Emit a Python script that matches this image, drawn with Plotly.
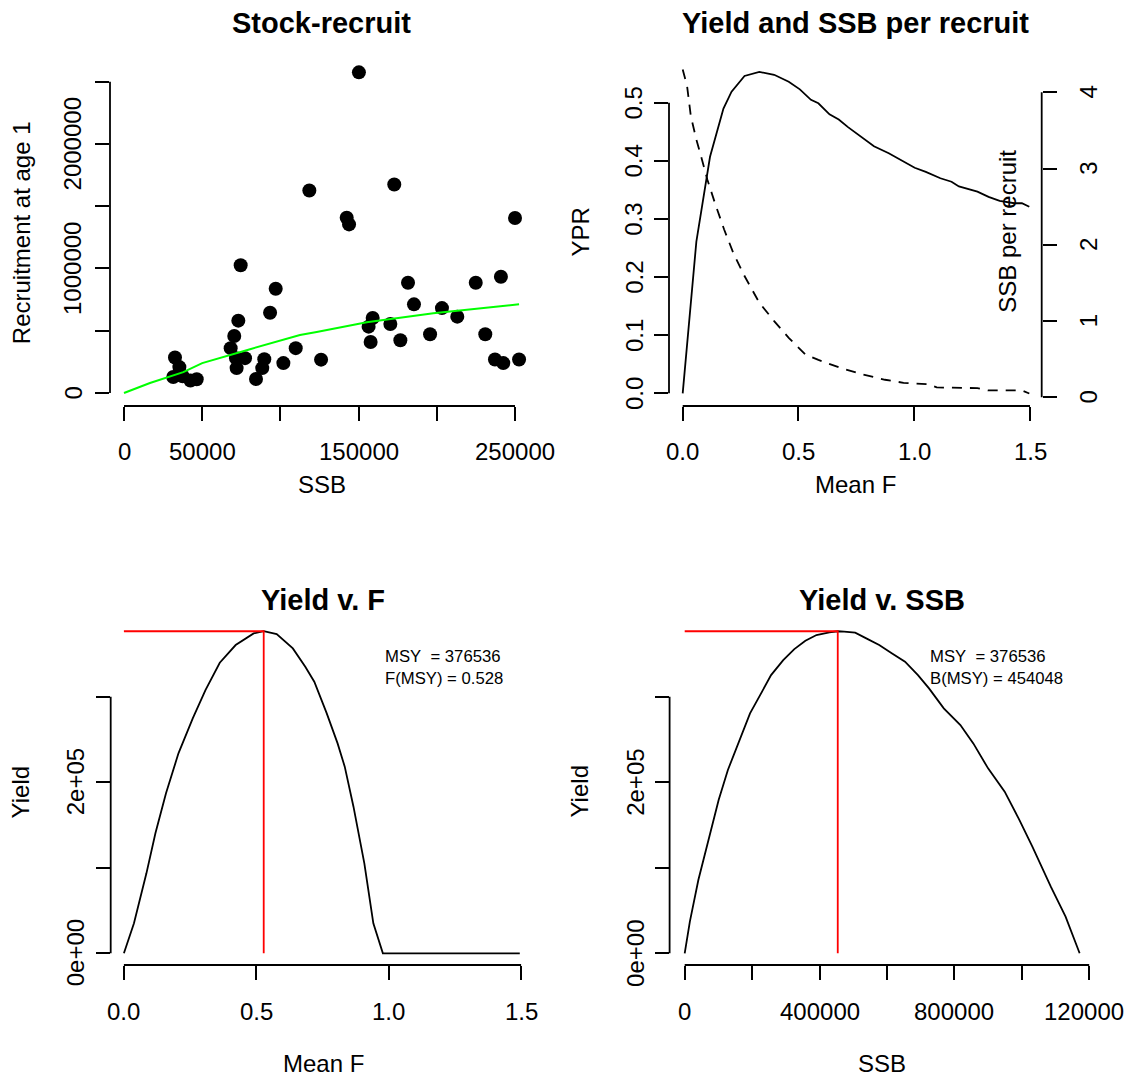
import plotly.graph_objects as go

W, H = 1139, 1080

# ---- Stock-recruit data -------------------------------------------------
sr_ssb = [32600, 35400, 31500, 37500, 42500, 46500, 68200, 70500, 73100, 74600,
          71600, 77400, 72000, 84400, 88400, 89700, 93400, 97000, 101900, 109800,
          118500, 126000, 142400, 143900, 150200, 156400, 157700, 159000, 170300,
          172800, 176700, 181600, 185400, 195700, 203300, 213100, 224900, 231000,
          237200, 241000, 242500, 250000, 252600]
sr_rec = [285000, 208000, 128000, 135000, 100000, 110000, 360000, 458000, 581000, 1026000,
          280000, 280000, 200000, 112000, 200000, 272000, 645000, 837000, 240000, 360000,
          1626000, 268000, 1408000, 1354000, 2575000, 533000, 410000, 602000, 554000,
          1674000, 424000, 885000, 712000, 472000, 682000, 613000, 885000, 472000,
          269000, 933000, 240000, 1405000, 269000]

fit_ssb = [0, 16600, 37900, 50000, 80600, 112500, 123200, 155200, 197800, 252600]
fit_rec = [0, 80000, 168000, 240000, 352000, 466000, 490000, 568000, 640000, 712000]

# ---- Per-recruit curves -------------------------------------------------
ypr_f = [0, 0.059, 0.118, 0.176, 0.211, 0.267, 0.331, 0.395, 0.458, 0.506, 0.554,
         0.586, 0.634, 0.674, 0.714, 0.778, 0.826, 0.890, 0.954, 1.002, 1.050,
         1.113, 1.161, 1.193, 1.273, 1.321, 1.369, 1.433, 1.465, 1.497]
ypr = [0, 0.261, 0.407, 0.490, 0.519, 0.546, 0.553, 0.548, 0.536, 0.523, 0.505,
       0.499, 0.480, 0.471, 0.458, 0.439, 0.425, 0.413, 0.398, 0.388, 0.381,
       0.370, 0.364, 0.356, 0.347, 0.338, 0.331, 0.327, 0.327, 0.321]

spr_f = [0, 0.019, 0.035, 0.059, 0.083, 0.107, 0.139, 0.179, 0.219, 0.267, 0.331,
         0.395, 0.458, 0.530, 0.586, 0.682, 0.778, 0.874, 0.954, 1.065, 1.097,
         1.273, 1.321, 1.465, 1.497]
spr = [4.30, 4.08, 3.69, 3.38, 3.12, 2.85, 2.55, 2.20, 1.89, 1.59, 1.24,
       1.00, 0.78, 0.56, 0.49, 0.385, 0.30, 0.23, 0.19, 0.17, 0.13,
       0.12, 0.09, 0.09, 0.05]

# ---- Equilibrium yield --------------------------------------------------
msy = 376536
f_msy = 0.528
b_msy = 454048

yf_f = [0, 0.038, 0.085, 0.119, 0.159, 0.206, 0.260, 0.308, 0.362, 0.422, 0.490,
        0.528, 0.577, 0.638, 0.685, 0.719, 0.766, 0.807, 0.834, 0.867, 0.908,
        0.942, 0.978, 1.495]
yf_yield = [0, 35100, 93500, 140300, 187000, 233800, 274700, 307800, 339700, 360400,
            374000, 376536, 373200, 356500, 335100, 317500, 280500, 245400, 218200,
            171400, 105200, 35100, 0, 0]

ys_ssb = [0, 15300, 40500, 73400, 100700, 128100, 160900, 193800, 226600, 256200,
          292300, 325200, 358000, 390900, 429200, 454048, 473000, 505800, 538700,
          577000, 615300, 653600, 692000, 724800, 768600, 817900, 856200, 900000,
          949300, 993100, 1031400, 1086100, 1129900, 1171600]
ys_yield = [0, 37000, 85700, 136400, 179200, 214300, 247400, 280500, 303900, 325300,
            342800, 355700, 365400, 372100, 375200, 376536, 376000, 374800, 368200,
            360400, 350600, 340900, 325300, 309700, 286400, 266900, 245400, 216200,
            189000, 155800, 124700, 77900, 42900, 0]

# ---- Tick definitions ---------------------------------------------------
p1_xticks = [0, 50000, 100000, 150000, 200000, 250000]
p1_xlabels = ["0", "50000", "", "150000", "", "250000"]
p1_yticks = [0, 500000, 1000000, 1500000, 2000000, 2500000]
p1_ylabels = ["0", "", "1000000", "", "2000000", ""]

f_ticks = [0, 0.5, 1.0, 1.5]
f_labels = ["0.0", "0.5", "1.0", "1.5"]
ypr_ticks = [0, 0.1, 0.2, 0.3, 0.4, 0.5]
ypr_labels = ["0.0", "0.1", "0.2", "0.3", "0.4", "0.5"]
spr_ticks = [0, 1, 2, 3, 4]
spr_labels = ["0", "1", "2", "3", "4"]

yield_ticks = [0, 100000, 200000, 300000]
yield_labels = ["0e+00", "", "2e+05", ""]
p4_xticks = [0, 200000, 400000, 600000, 800000, 1000000, 1200000]
p4_xlabels = ["0", "", "400000", "", "800000", "", "120000"]

FONT = "Liberation Sans, Arial, Helvetica, sans-serif"
TICK_FS = 24
TITLE_FS = 29
NOTE_FS = 16.7
LW = 1.8


def px_x(p):
    return p / W


def px_y(p):
    return 1 - p / H


def scale_range(lo_px, hi_px, v0, p0, v1, p1):
    """Axis range so that value v0 sits at pixel p0 and v1 at p1."""
    k = (v1 - v0) / (p1 - p0)
    a = v0 + (lo_px - p0) * k
    b = v0 + (hi_px - p0) * k
    return [min(a, b), max(a, b)]


def xax(left, right, anchors, tickvals, anchor):
    return dict(domain=[px_x(left), px_x(right)],
                range=scale_range(left, right, *anchors),
                tickvals=tickvals, ticks="outside", ticklen=14, showticklabels=False,
                tickwidth=LW, tickcolor="black", showline=False, showgrid=False,
                zeroline=False, anchor=anchor)


def yax(top, bottom, anchors, tickvals, anchor, side="left"):
    return dict(domain=[px_y(bottom), px_y(top)],
                range=scale_range(top, bottom, *anchors),
                tickvals=tickvals, ticks="outside", ticklen=14, showticklabels=False,
                tickwidth=LW, tickcolor="black", showline=False, showgrid=False,
                zeroline=False, anchor=anchor, side=side)


fig = go.Figure()

# Panel 1: stock-recruit scatter with fitted curve
fig.add_trace(go.Scatter(x=sr_ssb, y=sr_rec, mode="markers", xaxis="x", yaxis="y",
                         marker=dict(size=14, color="black")))
fig.add_trace(go.Scatter(x=fit_ssb, y=fit_rec, mode="lines", xaxis="x", yaxis="y",
                         line=dict(color="#00ff00", width=2)))

# Panel 2: yield per recruit (left axis) and SSB per recruit (right axis)
fig.add_trace(go.Scatter(x=ypr_f, y=ypr, mode="lines", xaxis="x2", yaxis="y2",
                         line=dict(color="black", width=LW)))
fig.add_trace(go.Scatter(x=spr_f, y=spr, mode="lines", xaxis="x2", yaxis="y3",
                         line=dict(color="black", width=LW, dash="10px,8px")))

# Panel 3: yield against F with MSY reference lines
fig.add_trace(go.Scatter(x=yf_f, y=yf_yield, mode="lines", xaxis="x3", yaxis="y4",
                         line=dict(color="black", width=LW)))
fig.add_trace(go.Scatter(x=[0, f_msy, f_msy], y=[msy, msy, 0], mode="lines",
                         xaxis="x3", yaxis="y4", line=dict(color="red", width=LW)))

# Panel 4: yield against SSB with MSY reference lines
fig.add_trace(go.Scatter(x=ys_ssb, y=ys_yield, mode="lines", xaxis="x4", yaxis="y5",
                         line=dict(color="black", width=LW)))
fig.add_trace(go.Scatter(x=[0, b_msy, b_msy], y=[msy, msy, 0], mode="lines",
                         xaxis="x4", yaxis="y5", line=dict(color="red", width=LW)))

TOP = (58.3, 406.0)
BOT = (618.5, 965.0)

fig.update_layout(
    width=W, height=H, margin=dict(l=0, r=0, t=0, b=0),
    paper_bgcolor="white", plot_bgcolor="white", showlegend=False,
    xaxis=xax(110.0, 534.0, (0, 124.0, 250000, 515.0), p1_xticks, "y"),
    yaxis=yax(*TOP, (0, 393.0, 2500000, 81.7), p1_yticks, "x"),
    xaxis2=xax(669.0, 1041.7, (0, 682.7, 1.5, 1030.0), f_ticks, "y2"),
    yaxis2=yax(*TOP, (0, 393.3, 0.5, 102.7), ypr_ticks, "x2"),
    yaxis3=dict(yax(*TOP, (0, 397.3, 4, 92.3), spr_ticks, "x2", side="right"),
                overlaying="y2"),
    xaxis3=xax(110.7, 537.0, (0, 123.9, 1.5, 521.1), f_ticks, "y4"),
    yaxis4=yax(*BOT, (0, 953.3, 300000, 696.7), yield_ticks, "x3"),
    xaxis4=xax(669.6, 1095.0, (0, 684.7, 1200000, 1089.2), p4_xticks, "y5"),
    yaxis5=yax(*BOT, (0, 953.3, 300000, 696.7), yield_ticks, "x4"),
)

# Axis lines spanning first to last tick, as in base-graphics axes
axis_lines = [
    ("x", "y", p1_xticks, "x"), ("x", "y", p1_yticks, "y"),
    ("x2", "y2", f_ticks, "x"), ("x2", "y2", ypr_ticks, "y"),
    ("x3", "y4", f_ticks, "x"), ("x3", "y4", yield_ticks, "y"),
    ("x4", "y5", p4_xticks, "x"), ("x4", "y5", yield_ticks, "y"),
]
for xa, ya, ticks, kind in axis_lines:
    if kind == "x":
        fig.add_shape(type="line", xref=xa, yref=ya + " domain", x0=ticks[0], x1=ticks[-1],
                      y0=0, y1=0, line=dict(color="black", width=LW))
    else:
        fig.add_shape(type="line", xref=xa + " domain", yref=ya, x0=0, x1=0,
                      y0=ticks[0], y1=ticks[-1], line=dict(color="black", width=LW))
fig.add_shape(type="line", xref="x2 domain", yref="y3", x0=1, x1=1,
              y0=spr_ticks[0], y1=spr_ticks[-1], line=dict(color="black", width=LW))


def label(text, x, y, size=TICK_FS, angle=0, bold=False, xref="paper", yref="paper",
          **kw):
    t = "<b>%s</b>" % text if bold else text
    opts = dict(xanchor="center", yanchor="middle")
    opts.update(kw)
    fig.add_annotation(text=t, x=x, y=y, xref=xref, yref=yref,
                       showarrow=False, textangle=angle,
                       font=dict(family=FONT, size=size, color="black"), **opts)


# Tick labels placed one line out from each axis
def x_ticklabels(xref, vals, texts, y_px):
    for v, t in zip(vals, texts):
        if t:
            label(t, v, px_y(y_px), xref=xref)


def y_ticklabels(yref, vals, texts, x_px):
    for v, t in zip(vals, texts):
        if t:
            label(t, px_x(x_px), v, angle=-90, yref=yref)


x_ticklabels("x", p1_xticks, p1_xlabels, 451.7)
y_ticklabels("y", p1_yticks, p1_ylabels, 72.5)
x_ticklabels("x2", f_ticks, f_labels, 451.7)
y_ticklabels("y2", ypr_ticks, ypr_labels, 633.8)
y_ticklabels("y3", spr_ticks, spr_labels, 1088.3)
x_ticklabels("x3", f_ticks, f_labels, 1011.7)
y_ticklabels("y4", yield_ticks, yield_labels, 75.0)
x_ticklabels("x4", p4_xticks[:-1], p4_xlabels[:-1], 1011.7)
# the rightmost SSB label runs into the edge of the device
label(p4_xlabels[-1], p4_xticks[-1], px_y(1011.7), xref="x4", xanchor="left", xshift=-47)
y_ticklabels("y5", yield_ticks, yield_labels, 635.6)

# Panel titles
label("Stock-recruit", px_x(321.5), px_y(23.3), TITLE_FS, bold=True)
label("Yield and SSB per recruit", px_x(855.0), px_y(23.3), TITLE_FS, bold=True)
label("Yield v. F", px_x(323.0), px_y(600), TITLE_FS, bold=True)
label("Yield v. SSB", px_x(882.0), px_y(600), TITLE_FS, bold=True)

# Axis titles
label("SSB", px_x(321.5), px_y(484), TICK_FS)
label("Mean F", px_x(855.0), px_y(484), TICK_FS)
label("Mean F", px_x(323.0), px_y(1063.3), TICK_FS)
label("SSB", px_x(882.0), px_y(1063.3), TICK_FS)
label("Recruitment at age 1", px_x(21.7), px_y(232.5), TICK_FS, angle=-90)
label("YPR", px_x(580), px_y(232.5), TICK_FS, angle=-90)
label("SSB per recruit", px_x(1008), px_y(231.7), TICK_FS, angle=-90)
label("Yield", px_x(20.4), px_y(792.0), TICK_FS, angle=-90)
label("Yield", px_x(578.5), px_y(792.0), TICK_FS, angle=-90)

# MSY notes
label("MSY\u00a0 = %d<br>F(MSY) = %.3f" % (msy, f_msy), px_x(383), px_y(667),
      NOTE_FS, xanchor="left", align="left")
label("MSY\u00a0 = %d<br>B(MSY) = %d" % (msy, b_msy), px_x(928.3), px_y(667),
      NOTE_FS, xanchor="left", align="left")

fig.write_html("out.html")
